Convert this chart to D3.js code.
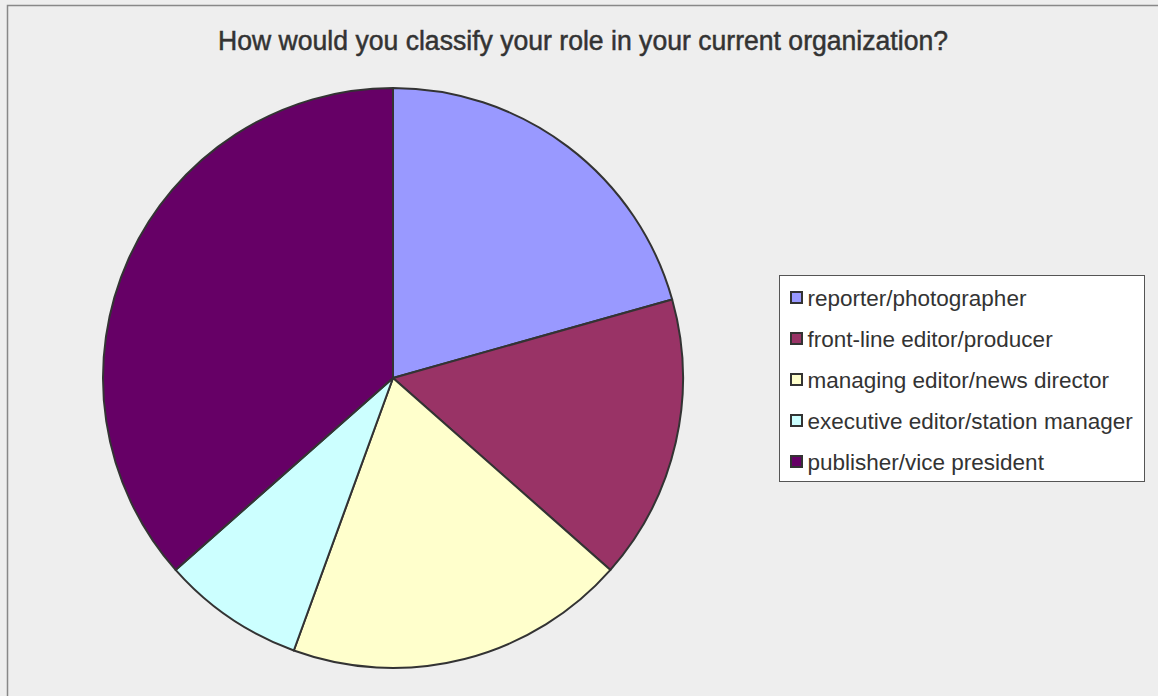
<!DOCTYPE html>
<html>
<head>
<meta charset="utf-8">
<script src="https://cdn.jsdelivr.net/npm/d3@7"></script>
<style>
  html, body { margin: 0; padding: 0; background: #eeeeee; }
  svg { display: block; }
</style>
</head>
<body>
<div id="chart"></div>
<script>
const roles = [
  "reporter/photographer",
  "front-line editor/producer",
  "managing editor/news director",
  "executive editor/station manager",
  "publisher/vice president"
];
const counts = [26, 20, 24, 10, 46];
const colors = ["#9999ff", "#993366", "#ffffcc", "#ccffff", "#660066"];

const width = 1158;
const height = 696;
const cx = 393, cy = 378, radius = 290;

const svg = d3.select("#chart").append("svg")
  .attr("width", width)
  .attr("height", height);

// outer frame (only top/left visible in the shot)
svg.append("rect")
  .attr("x", 7.5).attr("y", 5.5)
  .attr("width", width).attr("height", height)
  .attr("fill", "#eeeeee")
  .attr("stroke", "#888888")
  .attr("stroke-width", 1.5);

svg.append("text")
  .attr("x", 583).attr("y", 50)
  .attr("text-anchor", "middle")
  .attr("font-family", "Liberation Sans, Arial, sans-serif")
  .attr("font-size", 27)
  .attr("fill", "#333")
  .attr("stroke", "#333")
  .attr("stroke-width", 0.5)
  .attr("textLength", 730)
  .attr("lengthAdjust", "spacingAndGlyphs")
  .text("How would you classify your role in your current organization?");

const data = roles.map((r, i) => ({ role: r, value: counts[i], color: colors[i] }));

const pie = d3.pie().sort(null).value(d => d.value);
const arc = d3.arc().innerRadius(0).outerRadius(radius);

svg.append("g")
  .attr("transform", `translate(${cx},${cy})`)
  .selectAll("path")
  .data(pie(data))
  .join("path")
  .attr("d", arc)
  .attr("fill", d => d.data.color)
  .attr("stroke", "#333333")
  .attr("stroke-width", 2)
  .attr("stroke-linejoin", "round");

// legend
const legend = svg.append("g").attr("transform", "translate(779.5,275.5)");
legend.append("rect")
  .attr("width", 365).attr("height", 206)
  .attr("fill", "#ffffff")
  .attr("stroke", "#555555")
  .attr("stroke-width", 1);

const rowY = d3.scaleLinear().domain([0, 4]).range([22, 186]);

const items = legend.selectAll("g.item")
  .data(data)
  .join("g")
  .attr("class", "item")
  .attr("transform", (d, i) => `translate(0,${rowY(i)})`);

items.append("rect")
  .attr("x", 11.5).attr("y", -5.5)
  .attr("width", 11).attr("height", 11)
  .attr("fill", d => d.color)
  .attr("stroke", "#333333")
  .attr("stroke-width", 2);

items.append("text")
  .attr("x", 28).attr("y", 8)
  .attr("font-family", "Liberation Sans, Arial, sans-serif")
  .attr("font-size", 22.5)
  .attr("fill", "#333")
  .text(d => d.role);
</script>
</body>
</html>
